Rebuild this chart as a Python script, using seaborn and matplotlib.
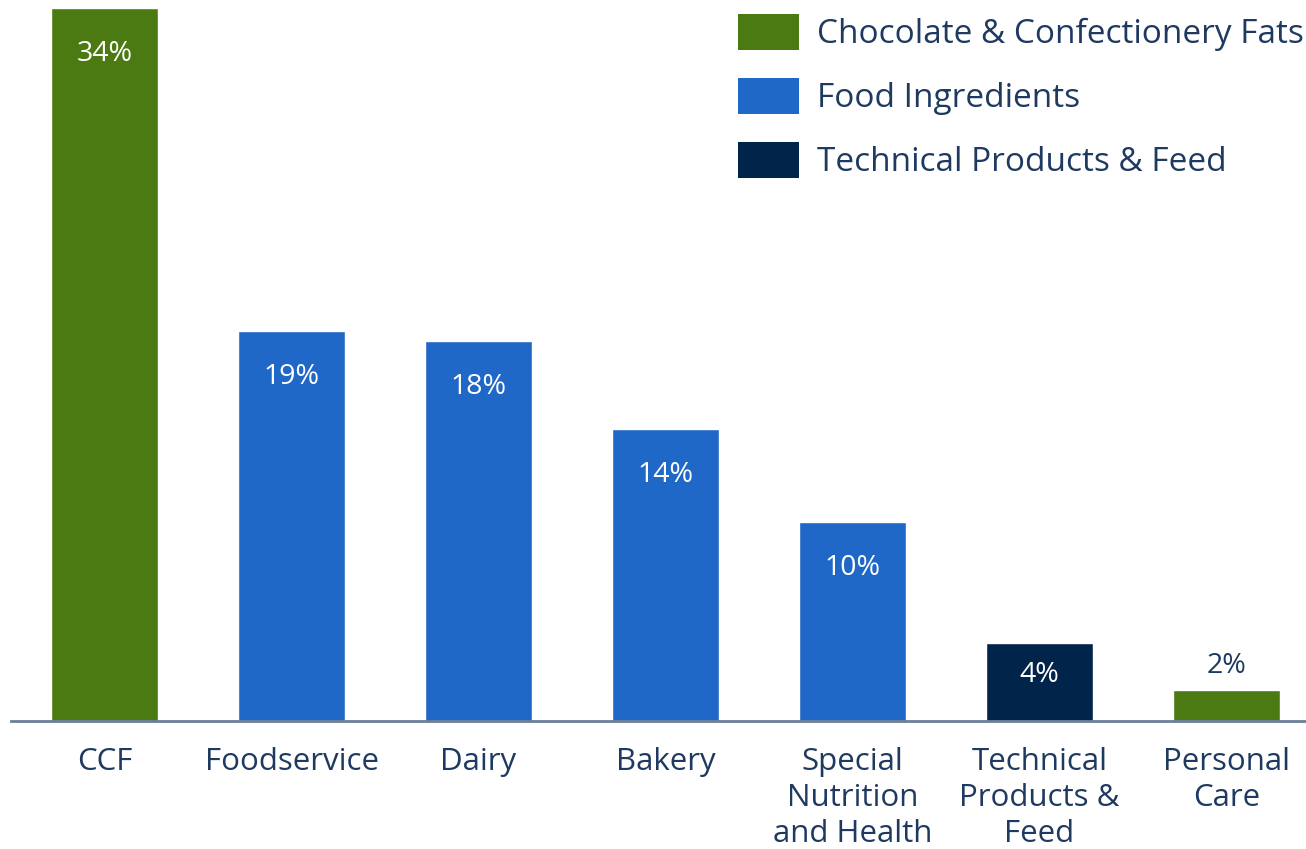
import matplotlib
matplotlib.use("Agg")
import matplotlib.pyplot as plt
from matplotlib.patches import Patch
import seaborn as sns
import pandas as pd

categories = ["CCF", "Foodservice", "Dairy", "Bakery",
              "Special\nNutrition\nand Health", "Technical\nProducts &\nFeed", "Personal\nCare"]
values = [34.0, 18.6, 18.1, 13.9, 9.5, 3.7, 1.5]
value_labels = ["34%", "19%", "18%", "14%", "10%", "4%", "2%"]
groups = ["Chocolate & Confectionery Fats", "Food Ingredients", "Food Ingredients",
          "Food Ingredients", "Food Ingredients", "Technical Products & Feed",
          "Chocolate & Confectionery Fats"]
legend_names = ["Chocolate & Confectionery Fats", "Food Ingredients", "Technical Products & Feed"]
colors = ["#4B7A12", "#2068C8", "#00244A"]

TEXT = "#1E3A60"
sns.set_theme(style="white")
plt.rcParams['font.family'] = ['Open Sans', 'DejaVu Sans']

df = pd.DataFrame({"cat": categories, "val": values, "grp": groups})
palette = dict(zip(legend_names, colors))

fig = plt.figure(figsize=(13.06, 8.49), dpi=100)
ax = fig.add_axes([11/1306, 1 - 721/849, 1 - 11/1306, 721/849])
sns.barplot(data=df, x="cat", y="val", hue="grp", palette=palette, dodge=False,
            width=0.572, ax=ax, legend=False, saturation=1, order=categories)

ax.set_xlim(-0.5, 6.425)
ax.set_ylim(0, 34.38)
for s in ["top", "right", "left"]:
    ax.spines[s].set_visible(False)
ax.spines["bottom"].set_color("#6A7F99")
ax.spines["bottom"].set_linewidth(2)
ax.set_yticks([])
ax.set_xlabel("")
ax.set_ylabel("")
ax.tick_params(axis="x", length=0, pad=19, labelsize=22.5, labelcolor=TEXT)
for lbl in ax.get_xticklabels():
    lbl.set_linespacing(1.25)

px_per_unit = (721 / 34.38)
for i, (v, t) in enumerate(zip(values, value_labels)):
    hpx = v * px_per_unit
    if hpx > 60:
        off = -min(46, hpx * 0.41)
        ax.annotate(t, (i, v), xytext=(0, off), textcoords="offset pixels",
                    ha="center", va="center", color="white", fontsize=20.5)
    else:
        ax.annotate(t, (i, v), xytext=(0, 24), textcoords="offset pixels",
                    ha="center", va="center", color=TEXT, fontsize=20.5)

handles = [Patch(facecolor=c, edgecolor="none") for c in colors]
leg = fig.legend(handles, legend_names, loc="upper left", bbox_to_anchor=(731/1306, 1 - 7/849),
                 frameon=False, fontsize=24, labelcolor=TEXT, handlelength=1.83, handleheight=1.3,
                 handletextpad=0.55, labelspacing=0.8, borderaxespad=0, borderpad=0.2)

fig.savefig("out.png", dpi=100)
